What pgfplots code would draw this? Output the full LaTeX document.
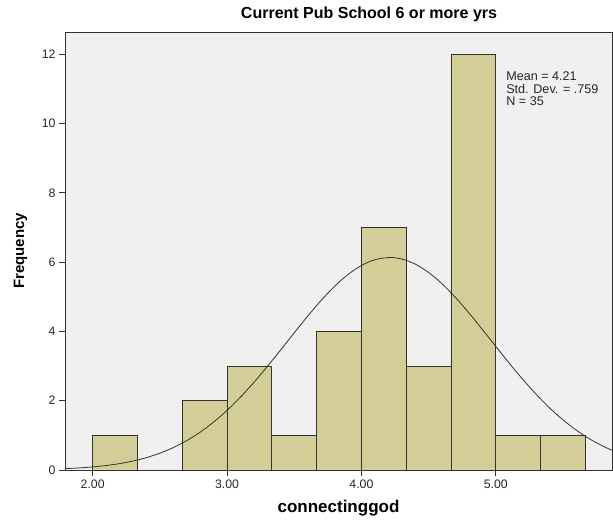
\documentclass[border=0pt]{standalone}
\usepackage{fontspec}
\setmainfont{Liberation Sans}
\usepackage{pgfplots}
\pgfplotsset{compat=1.18}
\definecolor{barfill}{RGB}{211,206,152}
\definecolor{bg}{RGB}{240,240,240}
\definecolor{edge}{RGB}{50,50,50}
\begin{document}
\begin{tikzpicture}
\begin{axis}[
 scale only axis, width=547pt, height=438pt, at={(0pt,0pt)}, anchor=south west,
 xmin=1.794, xmax=5.865, ymin=0, ymax=12.64,
 axis background/.style={fill=bg},
 axis line style={draw=edge, line width=0.9pt},
 xtick={2,3,4,5}, xticklabels={2.00,3.00,4.00,5.00},
 ytick={0,2,4,6,8,10,12},
 tick align=outside, xtick pos=bottom, ytick pos=left,
 major tick length=6pt, tick style={draw=edge, line width=0.9pt},
 ticklabel style={font=\fontsize{12.3}{14}\selectfont, text=black!85},
 /pgf/number format/assume math mode=true,
]
\addplot[ybar interval, fill=barfill, draw=edge, line width=0.8pt] coordinates {
(2.0000,1) (2.3333,0) (2.6667,2) (3.0000,3) (3.3333,1) (3.6667,4)
(4.0000,7) (4.3333,3) (4.6667,12) (5.0000,1) (5.3333,1) (5.6667,0)
};
\addplot[smooth, draw=black!80, line width=0.8pt] coordinates {
(1.79,0.0380) (1.8,0.0397) (1.9,0.0597) (2.0,0.0885) (2.1,0.1287) (2.2,0.1840)
(2.3,0.2585) (2.4,0.3571) (2.5,0.4847) (2.6,0.6466) (2.7,0.8475)
(2.8,1.0919) (2.9,1.3827) (3.0,1.7209) (3.1,2.1046) (3.2,2.5298)
(3.3,2.9886) (3.4,3.4697) (3.5,3.9591) (3.6,4.4396) (3.7,4.8928)
(3.8,5.2995) (3.9,5.6413) (4.0,5.9018) (4.1,6.0679) (4.21,6.1320)
(4.3,6.0890) (4.4,5.9429) (4.5,5.7004) (4.6,5.3737) (4.7,4.9784)
(4.8,4.5331) (4.9,4.0565) (5.0,3.5674) (5.1,3.0835) (5.2,2.6192)
(5.3,2.1865) (5.4,1.7940) (5.5,1.4467) (5.6,1.1464) (5.7,0.8926)
(5.8,0.6834) (5.87,0.5610)
};
\node[anchor=north west, align=left, inner sep=0pt,
      font=\fontsize{12.6}{12.5}\selectfont, text=black!85] at (axis cs:5.077,11.49)
      {Mean = 4.21\\Std. Dev. = .759\\N = 35};
\end{axis}
\node[anchor=base, font=\bfseries\fontsize{16}{19}\selectfont] at (304pt,451pt) {Current Pub School 6 or more yrs};
\node[anchor=base, font=\bfseries\fontsize{17}{20}\selectfont] at (273.5pt,-42.7pt) {connectinggod};
\node[rotate=90, anchor=center, font=\bfseries\fontsize{15}{18}\selectfont] at (-44.5pt,219pt) {Frequency};
\pgfresetboundingbox
\path (-65pt,-51pt) rectangle (548pt,470pt);
\end{tikzpicture}
\end{document}
